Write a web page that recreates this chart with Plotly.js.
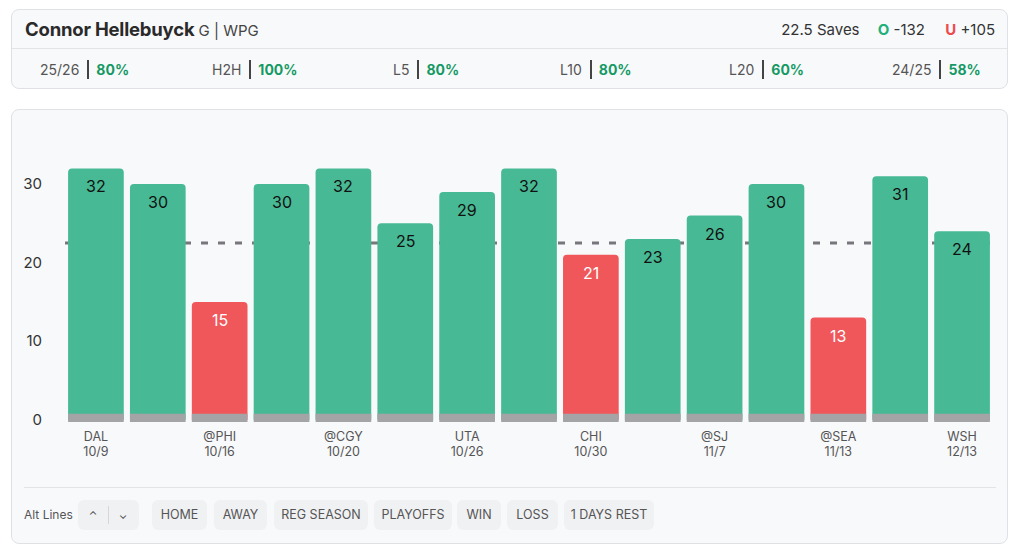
<!DOCTYPE html>
<html>
<head>
<meta charset="utf-8">
<script src="https://cdn.plot.ly/plotly-3.0.1.min.js"></script>
<style>
  html, body { margin:0; padding:0; background:#ffffff; width:1024px; height:559px; overflow:hidden; font-family: Inter, "Open Sans", sans-serif; }
  .card { position:absolute; background:#f8f9fb; border:1px solid #dfe1e5; border-radius:8px; box-sizing:border-box; }
  #head { left:11px; top:9px; width:997px; height:80px; }
  #head .row1 { position:absolute; left:0; top:0; width:100%; height:38px; border-bottom:1px solid #e2e4e8; }
  .name { position:absolute; left:13px; top:8px; font-size:18.5px; font-weight:700; color:#2a2a2a; letter-spacing:-0.2px; }
  .name span { font-weight:400; font-size:15px; color:#444; letter-spacing:0; }
  .line { position:absolute; right:12px; top:10px; font-size:15px; color:#333; }
  .line b.o { color:#1fb07a; margin-left:14px; }
  .line b.u { color:#ee4b4f; margin-left:16px; }
  .stat { position:absolute; top:60px; font-size:14px; line-height:18px; color:#555; white-space:nowrap; }
  .stat i { display:inline-block; width:2px; height:19px; background:#444; vertical-align:-4px; margin:0 7px 0 8px; }
  .stat b { color:#159964; font-weight:700; }
  #chartcard { left:11px; top:109px; width:997px; height:435px; }
  #plot { position:absolute; left:0; top:0; width:1024px; height:559px; }
  .divider { position:absolute; left:24px; top:487px; width:972px; height:1px; background:#e2e4e8; }
  .alt { position:absolute; left:24px; top:507px; font-size:12px; color:#555; }
  .btn { position:absolute; top:500px; height:30px; line-height:30px; background:#f0f1f3; border-radius:6px; font-size:12.5px; color:#555; text-align:center; }
  .arrow { font-size:11px; color:#444; }
</style>
</head>
<body>
<div class="card" id="head">
  <div class="row1">
    <div class="name">Connor Hellebuyck <span>G | WPG</span></div>
    <div class="line">22.5 Saves <b class="o">O</b> -132 <b class="u">U</b> +105</div>
  </div>
</div>
<div class="stat" style="left:40px">25/26<i></i><b>80%</b></div>
<div class="stat" style="left:212px">H2H<i></i><b>100%</b></div>
<div class="stat" style="left:393px">L5<i></i><b>80%</b></div>
<div class="stat" style="left:560px">L10<i></i><b>80%</b></div>
<div class="stat" style="left:729px">L20<i></i><b>60%</b></div>
<div class="stat" style="left:892px">24/25<i></i><b>58%</b></div>

<div class="card" id="chartcard"></div>
<div id="plot"></div>
<div class="divider"></div>
<div class="alt">Alt Lines</div>
<div class="btn" style="left:78px;width:61px;">
  <span class="arrow" style="position:absolute;left:10px;width:10px;">&#8963;</span>
  <span style="position:absolute;left:30px;top:6px;width:1px;height:18px;background:#d5d7db;"></span>
  <span class="arrow" style="position:absolute;left:40px;width:10px;">&#8964;</span>
</div>
<div class="btn" style="left:152px;width:55px;">HOME</div>
<div class="btn" style="left:214px;width:53px;">AWAY</div>
<div class="btn" style="left:274px;width:94px;">REG SEASON</div>
<div class="btn" style="left:374px;width:78px;">PLAYOFFS</div>
<div class="btn" style="left:457px;width:44px;">WIN</div>
<div class="btn" style="left:507px;width:51px;">LOSS</div>
<div class="btn" style="left:564px;width:90px;">1 DAYS REST</div>

<script>
const games = [0,1,2,3,4,5,6,7,8,9,10,11,12,13,14];
const saves = [32,30,15,30,32,25,29,32,21,23,26,30,13,31,24];
const opponents = ["DAL","","@PHI","","@CGY","","UTA","","CHI","","@SJ","","@SEA","","WSH"];
const dates = ["10/9","","10/16","","10/20","","10/26","","10/30","","11/7","","11/13","","12/13"];
const propLine = 22.5;
const yTicks = [0,10,20,30];

const GREEN = "#47b994", RED = "#f0575a", GRAY = "#a4a4a6";
const colors = saves.map(v => v > propLine ? GREEN : RED);

const barTrace = {
  type: "bar", x: games, y: saves,
  marker: { color: colors, cornerradius: 4 },
  hoverinfo: "none", showlegend: false
};
const baseTrace = {
  type: "bar", x: games, y: games.map(() => 1.05), base: -0.3,
  xaxis: "x2", yaxis: "y",
  marker: { color: GRAY }, hoverinfo: "none", showlegend: false
};

const annotations = games.map((g,i) => ({
  x: g, y: saves[i], xref: "x", yref: "y", yanchor: "middle",
  yshift: -18, showarrow: false, text: String(saves[i]),
  font: { family: "Inter, Open Sans, sans-serif", size: 16, color: saves[i] > propLine ? "#111" : "#ffffff" }
}));

function xAxis(text, standoff) {
  return {
    range: [-0.5, 14.5], tickvals: games, ticktext: text,
    showgrid: false, zeroline: false, showline: false, ticks: "",
    tickfont: { size: 12.5, color: "#555" }, ticklabelstandoff: standoff, fixedrange: true
  };
}

const layout = {
  width: 1024, height: 559,
  margin: { l: 65, r: 31, t: 137, b: 137 },
  paper_bgcolor: "rgba(0,0,0,0)", plot_bgcolor: "rgba(0,0,0,0)",
  barmode: "overlay", bargap: 0.1,
  font: { family: "Inter, Open Sans, sans-serif" },
  xaxis: xAxis(opponents, 5),
  xaxis2: Object.assign(xAxis(dates, 20), { overlaying: "x", side: "bottom", anchor: "y" }),
  yaxis: {
    range: [-0.3, 36], tickvals: yTicks, showgrid: false, zeroline: false,
    showline: false, ticks: "", tickfont: { size: 15, color: "#333" },
    ticklabelstandoff: 22, fixedrange: true
  },
  shapes: [{
    type: "line", xref: "paper", x0: 0, x1: 1, yref: "y", y0: propLine, y1: propLine,
    line: { color: "#76767c", width: 3, dash: "7px,10px" }, layer: "below"
  }],
  annotations: annotations
};

Plotly.newPlot("plot", [barTrace, baseTrace], layout, { staticPlot: true, displayModeBar: false });
</script>
</body>
</html>
